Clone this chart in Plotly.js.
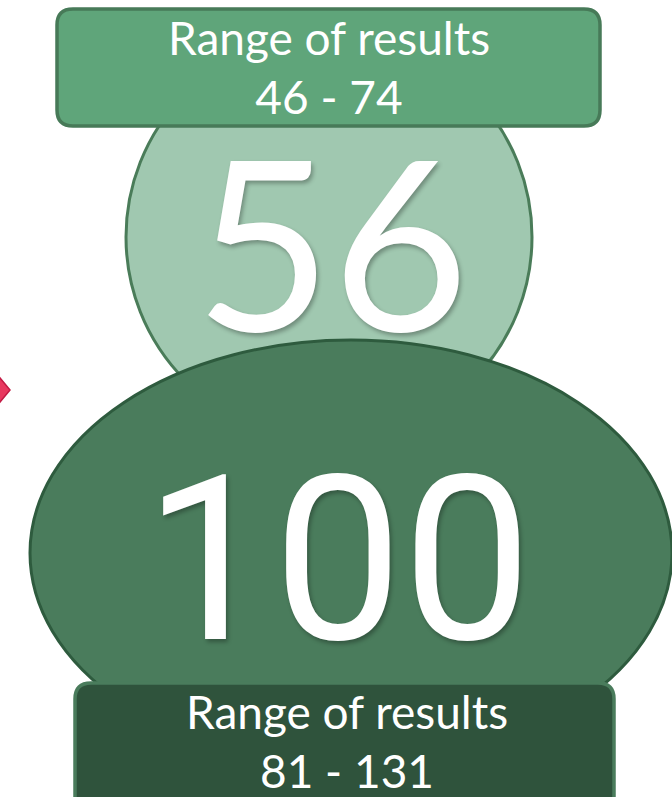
<!DOCTYPE html>
<html>
<head>
<meta charset="utf-8">
<script src="https://cdn.plot.ly/plotly-3.0.1.min.js"></script>
<style>html,body{margin:0;padding:0;background:#fff;}#chart{width:672px;height:797px;}</style>
</head>
<body>
<div id="chart"></div>
<script>
// ---- data ----
const centralValues = [56, 100];
const rangeLow = [46, 81];
const rangeHigh = [74, 131];
const rangeTitle = "Range of results";

// ---- layout positions (pixel-like data coords) ----
const numberX = [332, 338];
const numberY = [272, 560];
const labelX = [329, 347];
const labelY = [73, 747];

function roundRect(x0, y0, x1, y1, r) {
  return `M ${x0+r},${y0} L ${x1-r},${y0} Q ${x1},${y0} ${x1},${y0+r} L ${x1},${y1-r} Q ${x1},${y1} ${x1-r},${y1} L ${x0+r},${y1} Q ${x0},${y1} ${x0},${y1-r} L ${x0},${y0+r} Q ${x0},${y0} ${x0+r},${y0} Z`;
}

const shapes = [
  // pink arrow fragment
  {type:'path', path:'M -5,372 L 10,390 L -5,408 Z', fillcolor:'#e8385f', line:{color:'#c21a44', width:1.5}, layer:'below'},
  // light circle
  {type:'circle', x0:126, x1:532, y0:34, y1:440, fillcolor:'#a0c8b0', line:{color:'#4a7c59', width:3}, layer:'below'},
  // top rounded rect
  {type:'path', path: roundRect(57, 9, 600, 126, 16), fillcolor:'#5fa57a', line:{color:'#477a58', width:3.5}, layer:'below'},
  // dark ellipse
  {type:'circle', x0:30, x1:672, y0:340, y1:766, fillcolor:'#4a7c5c', line:{color:'#2e5b3e', width:3}, layer:'below'},
  // bottom rounded rect
  {type:'path', path: roundRect(75, 683, 614, 812, 16), fillcolor:'#2f533c', line:{color:'#4a7c5c', width:3.5}, layer:'below'}
];

const data = [
  {
    type:'scatter', mode:'text', x:[numberX[0]], y:[numberY[0]],
    text:[String(centralValues[0])], textposition:'middle center',
    textfont:{family:'Lato', size:236, color:'#ffffff', shadow:'2px 3px 4px rgba(0,0,0,0.3)'},
    hoverinfo:'skip', showlegend:false
  },
  {
    type:'scatter', mode:'text', x:labelX, y:labelY,
    text: rangeLow.map((lo,i)=> rangeTitle + '<br>' + lo + ' - ' + rangeHigh[i]),
    textposition:'middle center',
    textfont:{family:'Lato', size:46, color:'#ffffff'},
    hoverinfo:'skip', showlegend:false
  }
];

const layout = {
  width:672, height:797,
  margin:{l:0,r:0,t:0,b:0,pad:0},
  paper_bgcolor:'#ffffff', plot_bgcolor:'#ffffff',
  xaxis:{range:[0,672], visible:false, fixedrange:true},
  yaxis:{range:[797,0], visible:false, fixedrange:true},
  shapes: shapes,
  annotations: [{
    x: numberX[1], y: numberY[1], xref:'x', yref:'y',
    text: String(centralValues[1]), showarrow:false,
    xanchor:'center', yanchor:'middle',
    font:{family:'Roboto', size:230, color:'#ffffff', shadow:'2px 3px 4px rgba(0,0,0,0.3)'}
  }],
  showlegend:false
};

Plotly.newPlot('chart', data, layout, {displayModeBar:false, staticPlot:true});
</script>
</body>
</html>
